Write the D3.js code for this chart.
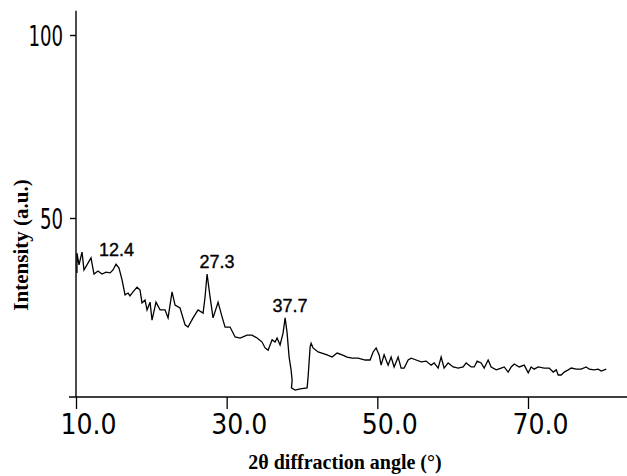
<!DOCTYPE html>
<html>
<head>
<meta charset="utf-8">
<script src="https://cdn.jsdelivr.net/npm/d3@7"></script>
<style>
  html, body { margin: 0; padding: 0; background: #fff; }
  svg { display: block; }
</style>
</head>
<body>
<svg id="chart" width="627" height="476"></svg>
<script>
// ---- data ----
const angle = [10.13,10.13,10.40,10.80,11.06,11.99,12.39,12.92,13.45,13.98,14.52,14.91,15.31,15.71,16.11,16.51,16.91,17.17,17.57,18.10,
  18.50,18.76,19.16,19.43,19.83,20.09,20.62,21.16,21.82,22.22,22.75,23.15,23.81,24.48,24.87,25.54,26.20,26.87,27.13,27.40,
  27.80,28.19,28.86,29.39,29.79,30.45,31.12,31.78,32.71,33.37,34.04,34.70,35.10,35.50,36.03,36.43,36.69,37.09,37.49,37.76,
  38.02,38.29,38.55,38.69,38.60,39.08,39.75,40.68,40.81,41.08,41.21,41.47,42.14,43.33,44.00,44.66,45.33,45.99,46.65,47.45,
  48.38,49.04,49.44,49.84,50.24,50.50,50.90,51.43,51.83,52.23,52.76,53.16,53.56,54.09,54.49,55.15,55.82,56.48,57.14,57.54,
  58.07,58.47,58.87,59.40,60.07,60.73,61.39,61.79,62.46,62.86,63.25,63.78,64.18,64.71,65.11,65.78,66.44,66.84,67.37,67.77,
  68.17,68.83,69.50,70.03,70.42,70.82,71.35,72.15,72.81,73.35,73.75,74.01,74.41,74.81,75.34,75.74,76.40,77.06,77.73,78.13,
  78.79,79.32,79.72,80.39];
const intensity = [35.0,40.4,37.2,40.7,35.8,39.1,34.7,35.5,34.7,35.2,35.0,35.8,37.4,36.3,33.1,29.0,29.5,28.7,29.8,31.1,
  30.3,26.8,27.6,24.9,27.0,22.1,27.0,24.9,24.9,22.7,29.8,26.2,25.4,20.8,20.2,22.7,24.9,24.0,28.4,34.7,
  28.4,22.7,27.0,23.0,20.2,20.2,17.5,17.2,18.0,18.0,17.2,16.1,14.5,13.9,16.7,16.1,17.2,15.3,18.6,22.7,
  18.6,12.0,8.5,5.7,3.6,3.0,3.3,3.6,6.6,14.8,15.8,14.5,13.4,12.6,12.0,13.1,12.6,12.0,11.7,11.7,
  11.2,11.2,13.4,14.5,12.6,9.8,12.6,9.8,12.0,9.3,12.0,9.0,9.0,11.2,11.7,11.2,10.7,10.9,9.8,10.4,
  9.0,12.0,9.0,10.4,9.3,9.0,9.3,10.4,9.3,9.3,10.9,10.4,9.0,11.2,9.3,8.5,9.0,9.3,7.9,9.3,
  10.1,9.3,9.8,7.7,9.3,8.7,9.3,9.0,9.0,7.9,8.5,7.1,7.1,7.9,8.5,9.0,8.7,8.7,9.3,8.7,
  8.5,8.7,8.2,8.7];
const xTickValues = [10, 30, 50, 70];
const xTickLabels = ["10.0", "30.0", "50.0", "70.0"];
const yTickValues = [50, 100];
const yTickLabels = ["50", "100"];
const peakLabels = ["12.4", "27.3", "37.7"];
const peakLabelAngle = [15.38, 28.73, 38.42];
const peakLabelIntensity = [39.6, 36.3, 24.3];
const xTitle = "2\u03B8 diffraction angle (\u00B0)";
const yTitle = "Intensity (a.u.)";

// ---- layout ----
const svg = d3.select("#chart");
const x = d3.scaleLinear().domain([10, 70]).range([76, 528]);
const y = d3.scaleLinear().domain([0, 100]).range([401, 35]);
const axisY0 = 1.1, axisYTop = 106.6;   // vertical extent of y axis (data units)
const axisXLeft = 69, axisXRight = 627; // horizontal extent of x axis (px)

const tickFont = "'Liberation Sans Narrow','DejaVu Sans Condensed','Arial Narrow',sans-serif";
const titleFont = "'Liberation Serif','DejaVu Serif','Times New Roman',serif";
const ySX = 0.72; // horizontal squeeze for the narrow y tick labels

// x axis
const gx = svg.append("g").attr("transform", `translate(0,${y(axisY0)})`)
  .call(d3.axisBottom(x).tickValues(xTickValues).tickSize(12).tickSizeOuter(0)
        .tickFormat((d, i) => xTickLabels[i]));
gx.select(".domain").remove();
gx.selectAll(".tick line").attr("stroke", "#000").attr("stroke-width", 1.3);
gx.selectAll(".tick text")
  .attr("y", 37).attr("dy", 0).attr("dx", 12)
  .style("font-family", tickFont).style("font-size", "28px").attr("fill", "#000");
svg.append("line")
  .attr("x1", axisXLeft).attr("x2", axisXRight)
  .attr("y1", y(axisY0)).attr("y2", y(axisY0))
  .attr("stroke", "#000").attr("stroke-width", 1.4);

// y axis
const gy = svg.append("g").attr("transform", `translate(${x(10)},0)`)
  .call(d3.axisLeft(y).tickValues(yTickValues).tickSize(6).tickSizeOuter(0)
        .tickFormat((d, i) => yTickLabels[i]));
gy.select(".domain").remove();
gy.selectAll(".tick line").attr("stroke", "#000").attr("stroke-width", 1.4);
gy.selectAll(".tick text")
  .attr("x", -13 / ySX).attr("dy", "0.36em")
  .attr("transform", `scale(${ySX},1)`)
  .style("font-family", tickFont).style("font-size", "28px").attr("fill", "#000");
svg.append("line")
  .attr("x1", x(10)).attr("x2", x(10))
  .attr("y1", y(axisY0)).attr("y2", y(axisYTop))
  .attr("stroke", "#000").attr("stroke-width", 1.4);

// data line
const line = d3.line().x((d, i) => x(angle[i])).y((d, i) => y(intensity[i]));
svg.append("path")
  .datum(intensity)
  .attr("d", line)
  .attr("fill", "none")
  .attr("stroke", "#000")
  .attr("stroke-width", 1.3)
  .attr("stroke-linejoin", "miter");

// peak labels
svg.selectAll("text.peak")
  .data(peakLabels)
  .enter().append("text")
  .attr("class", "peak")
  .attr("x", (d, i) => x(peakLabelAngle[i]))
  .attr("y", (d, i) => y(peakLabelIntensity[i]))
  .attr("text-anchor", "middle")
  .style("font-family", "'Liberation Sans',Arial,sans-serif")
  .style("font-size", "18px")
  .attr("fill", "#000")
  .attr("stroke", "#000").attr("stroke-width", 0.35)
  .text(d => d);

// axis titles
svg.append("text")
  .attr("x", 345).attr("y", 469)
  .attr("text-anchor", "middle")
  .style("font-family", titleFont).style("font-size", "20px").style("font-weight", "bold")
  .text(xTitle);
svg.append("text")
  .attr("transform", "translate(28,245) rotate(-90)")
  .attr("text-anchor", "middle")
  .style("font-family", titleFont).style("font-size", "21px").style("font-weight", "bold")
  .text(yTitle);
</script>
</body>
</html>
